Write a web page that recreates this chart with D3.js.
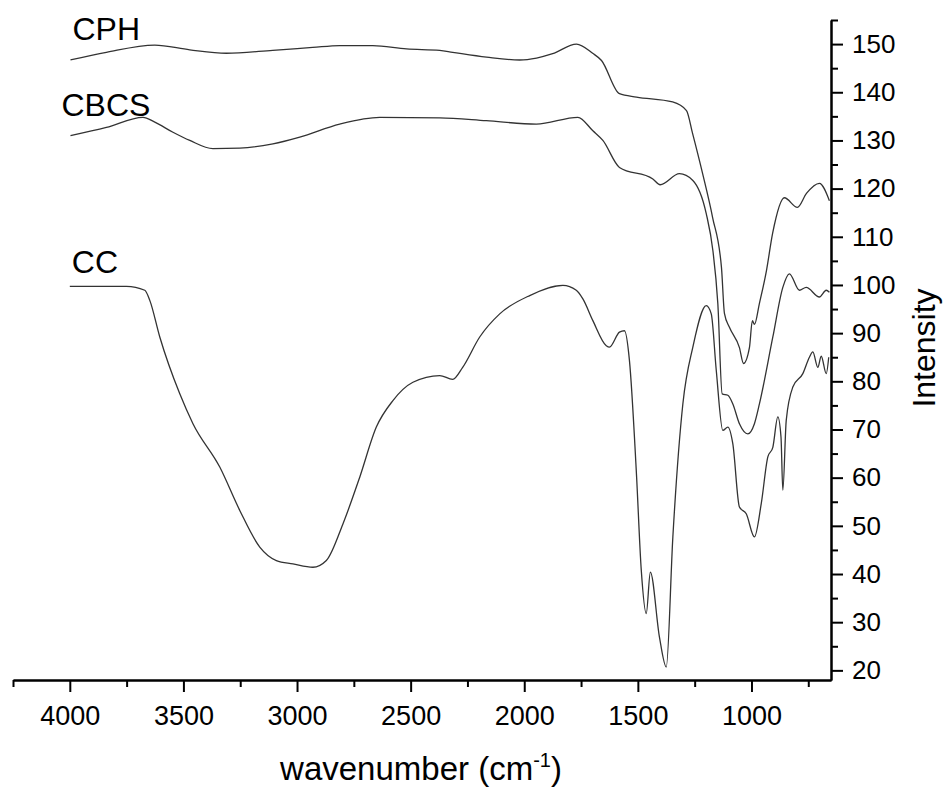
<!DOCTYPE html>
<html>
<head>
<meta charset="utf-8">
<script src="https://cdn.jsdelivr.net/npm/d3@7/dist/d3.min.js"></script>
<style>
  body { margin: 0; background: #fff; }
  svg { font-family: "Liberation Sans", Arial, sans-serif; }
</style>
</head>
<body>
<div id="chart"></div>
<script>
// FTIR spectra, [wavenumber, intensity]
const cph = [
  [3997, 146.7], [3839, 148.3], [3626, 149.8], [3472, 148.8], [3311, 148.1],
  [3107, 148.7], [2931, 149.3], [2812, 149.7], [2667, 149.7], [2518, 149.0],
  [2372, 148.7], [2315, 148.3], [2166, 147.3], [2020, 146.7], [1946, 147.1],
  [1875, 148.0], [1770, 150.0], [1699, 148.1], [1660, 146.6], [1581, 139.7],
  [1506, 139.0], [1347, 138.0], [1286, 136.2], [1259, 131.4], [1215, 123.1],
  [1171, 114.0], [1132, 103.6], [1119, 94.1], [1097, 91.2], [1053, 87.0],
  [1035, 83.7], [1009, 87.0], [996, 92.6], [987, 91.8], [965, 96.2],
  [934, 103.0], [907, 110.7], [855, 118.1], [798, 116.1], [758, 119.0],
  [701, 121.1], [657, 117.5]
];

const cbcs = [
  [3997, 131.0], [3839, 132.7], [3678, 134.8], [3626, 133.8], [3546, 131.7],
  [3472, 130.0], [3370, 128.3], [3252, 128.4], [3106, 129.3], [2988, 130.7],
  [2812, 133.4], [2636, 134.8], [2372, 134.7], [2167, 134.1],
  [1947, 133.4], [1764, 134.8], [1698, 132.0], [1654, 130.0], [1581, 124.4],
  [1434, 122.0], [1402, 120.8], [1317, 123.1], [1258, 121.7], [1199, 114.8],
  [1170, 107.2], [1148, 96.1], [1129, 77.4], [1104, 77.1], [1082, 75.3],
  [1053, 71.2], [1016, 69.1], [987, 71.2], [965, 75.3], [906, 89.2],
  [862, 99.5], [833, 102.3], [789, 98.9], [759, 99.5], [701, 97.5],
  [671, 98.9], [657, 98.5]
];

const cc = [
  [4000, 99.7], [3751, 99.7], [3670, 98.9], [3648, 96.8], [3604, 89.2],
  [3516, 77.4], [3458, 71.2], [3340, 62.2], [3252, 53.2], [3164, 45.6],
  [3091, 42.8], [3018, 42.1], [2930, 41.4], [2871, 42.8], [2798, 50.4],
  [2724, 60.1], [2651, 70.5], [2578, 76.0], [2490, 79.8], [2372, 81.2],
  [2315, 80.4], [2271, 82.9], [2196, 89.2], [2108, 94.0], [1976, 97.8],
  [1830, 99.9], [1771, 98.9], [1742, 97.1], [1698, 92.6], [1639, 87.4],
  [1625, 87.1], [1581, 90.2], [1559, 90.5], [1537, 84.3], [1507, 61.5],
  [1485, 40.8], [1463, 31.8], [1445, 40.4], [1405, 26.9], [1375, 20.7],
  [1346, 47.7], [1302, 75.3], [1258, 87.1], [1199, 95.7], [1177, 94.0],
  [1155, 82.3], [1126, 69.8], [1104, 70.5], [1082, 67.0], [1053, 53.9],
  [1023, 52.5], [987, 47.7], [957, 54.6], [928, 64.3], [906, 66.3],
  [884, 72.6], [870, 68.4], [862, 57.4], [847, 71.9], [818, 78.8],
  [774, 81.6], [745, 85.0], [730, 86.1], [708, 82.9], [693, 85.2],
  [671, 81.6], [660, 85.0]
];

const seriesNames = ["CPH", "CBCS", "CC"];
const xTicks = [4000, 3500, 3000, 2500, 2000, 1500, 1000];
const xMinorTicks = [4250, 3750, 3250, 2750, 2250, 1750, 1250, 750];
const yTicks = [20, 30, 40, 50, 60, 70, 80, 90, 100, 110, 120, 130, 140, 150];
const yMinorTicks = [25, 35, 45, 55, 65, 75, 85, 95, 105, 115, 125, 135, 145, 155];

const width = 946;
const height = 788;
const plot = { left: 13, right: 831, top: 20, bottom: 680 };

const x = d3.scaleLinear().domain([4250, 650]).range([plot.left, plot.right]);
const y = d3.scaleLinear().domain([18, 155]).range([plot.bottom, plot.top]);

const svg = d3.select("#chart")
  .append("svg")
  .attr("width", width)
  .attr("height", height);

const line = d3.line()
  .x(d => x(d[0]))
  .y(d => y(d[1]))
  .curve(d3.curveMonotoneX);

// spectra
const series = [cph, cbcs, cc];
svg.append("g")
  .selectAll("path")
  .data(series)
  .enter()
  .append("path")
  .attr("d", line)
  .attr("fill", "none")
  .attr("stroke", "#333")
  .attr("stroke-width", 1.3);

// series labels, placed just above each curve's start
const labelOffsets = [[2, -20], [-9, -20], [2, -13]];
svg.append("g")
  .selectAll("text")
  .data(seriesNames)
  .enter()
  .append("text")
  .attr("x", (d, i) => x(series[i][0][0]) + labelOffsets[i][0])
  .attr("y", (d, i) => y(series[i][0][1]) + labelOffsets[i][1])
  .attr("font-size", 32)
  .attr("fill", "#000")
  .text(d => d);

// x axis
const fmt = d3.format("d");
const xAxis = svg.append("g")
  .attr("transform", `translate(0,${plot.bottom})`)
  .call(d3.axisBottom(x).tickValues(xTicks).tickFormat(fmt).tickSize(12).tickPadding(14).tickSizeOuter(0));
svg.append("g")
  .attr("transform", `translate(0,${plot.bottom})`)
  .call(d3.axisBottom(x).tickValues(xMinorTicks).tickSize(7).tickFormat("").tickSizeOuter(0));

// y axis on the right
const yAxis = svg.append("g")
  .attr("transform", `translate(${plot.right},0)`)
  .call(d3.axisRight(y).tickValues(yTicks).tickFormat(fmt).tickSize(12).tickPadding(9).tickSizeOuter(0));
svg.append("g")
  .attr("transform", `translate(${plot.right},0)`)
  .call(d3.axisRight(y).tickValues(yMinorTicks).tickSize(7).tickFormat("").tickSizeOuter(0));

svg.selectAll(".domain").attr("stroke", "#000").attr("stroke-width", 2);
svg.selectAll(".tick line").attr("stroke", "#000").attr("stroke-width", 2);
xAxis.selectAll(".tick text")
  .attr("font-size", 27)
  .attr("font-family", "Liberation Sans, Arial, sans-serif")
  .attr("fill", "#000");
yAxis.selectAll(".tick text")
  .attr("font-size", 26)
  .attr("font-family", "Liberation Sans, Arial, sans-serif")
  .attr("fill", "#000");

// axis titles
const xTitle = svg.append("text")
  .attr("x", 421)
  .attr("y", 780)
  .attr("text-anchor", "middle")
  .attr("font-size", 33)
  .attr("fill", "#000");
xTitle.append("tspan").text("wavenumber (cm");
xTitle.append("tspan").attr("font-size", 20).attr("dy", -13).text("-1");
xTitle.append("tspan").attr("dy", 13).text(")");

svg.append("text")
  .attr("transform", "translate(935,348) rotate(-90)")
  .attr("text-anchor", "middle")
  .attr("font-size", 32)
  .attr("fill", "#000")
  .text("Intensity");
</script>
</body>
</html>
